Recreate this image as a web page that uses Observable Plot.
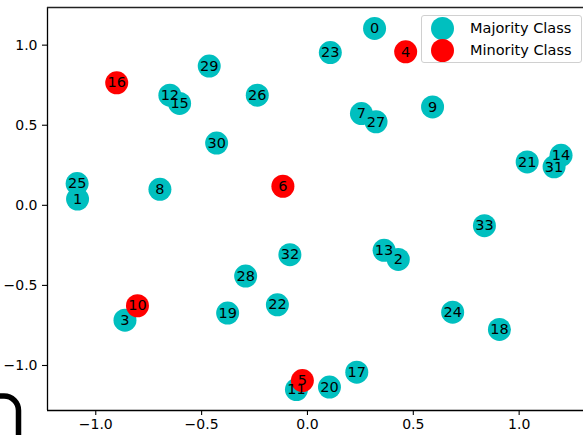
<!DOCTYPE html>
<html>
<head>
<meta charset="utf-8">
<script src="https://cdn.jsdelivr.net/npm/d3@7"></script>
<script src="https://cdn.jsdelivr.net/npm/@observablehq/plot@0.6"></script>
<style>
  html, body { margin: 0; padding: 0; background: #fff; }
  #wrap { position: relative; width: 583px; height: 435px; overflow: hidden; font-family: "DejaVu Sans", sans-serif; }
  #legend { position: absolute; left: 421px; top: 15px; width: 159px; height: 46px; border: 1px solid #d0d0d0; border-radius: 3px; background: rgba(255,255,255,0.85); }
  .item { position: absolute; left: 0; height: 22px; width: 159px; }
  .sw { position: absolute; left: 9px; width: 23px; height: 23px; border-radius: 50%; }
  .lab { position: absolute; left: 48px; font-size: 14.5px; color: #000; white-space: nowrap; line-height: 22px; }
  #corner { position: absolute; left: 0; top: 0; pointer-events: none; }
</style>
</head>
<body>
<div id="wrap"></div>
<script>
// Data
const nodeIds = [0,1,2,3,4,5,6,7,8,9,10,11,12,13,14,15,16,17,18,19,20,21,22,23,24,25,26,27,28,29,30,31,32,33];
const xs = [0.317,-1.086,0.429,-0.862,0.464,-0.024,-0.116,0.255,-0.697,0.591,-0.803,-0.052,-0.650,0.362,1.198,-0.604,-0.901,0.233,0.907,-0.377,0.104,1.038,-0.142,0.108,0.686,-1.088,-0.237,0.324,-0.292,-0.464,-0.429,1.165,-0.083,0.836];
const ys = [1.104,0.039,-0.3375,-0.717,0.958,-1.094,0.119,0.573,0.100,0.614,-0.627,-1.150,0.6875,-0.281,0.3125,0.636,0.765,-1.042,-0.775,-0.673,-1.135,0.271,-0.621,0.954,-0.667,0.136,0.6875,0.521,-0.442,0.869,0.389,0.240,-0.308,-0.127];
const minorityIds = [4,5,6,10,16];
const classNames = ["Majority Class", "Minority Class"];
const classColors = ["#00bfbf", "#ff0000"];
const xTicks = [-1.0, -0.5, 0.0, 0.5, 1.0];
const yTicks = [-1.0, -0.5, 0.0, 0.5, 1.0];
const xDomain = [-1.228, 1.304];
const yDomain = [-1.281, 1.235];

const nodes = nodeIds.map((id, i) => ({id, x: xs[i], y: ys[i], cls: minorityIds.includes(id) ? 1 : 0}));
const majority = nodes.filter(d => d.cls === 0);
const minority = nodes.filter(d => d.cls === 1);

const fmt = d3.format(".1f");

const chart = Plot.plot({
  width: 583,
  height: 435,
  marginLeft: 47,
  marginRight: 0,
  marginTop: 7,
  marginBottom: 25,
  style: {fontFamily: "DejaVu Sans, sans-serif", fontSize: "14px", background: "white", color: "black"},
  x: {domain: xDomain, ticks: xTicks, tickFormat: fmt, label: null},
  y: {domain: yDomain, ticks: yTicks, tickFormat: fmt, label: null},
  marks: [
    Plot.axisX({ticks: xTicks, tickFormat: fmt, tickSize: 5, tickPadding: 4, fontSize: 14, label: null, stroke: "black", strokeWidth: 1.1, strokeOpacity: 1}),
    Plot.axisY({ticks: yTicks, tickFormat: fmt, tickSize: 5, tickPadding: 5, fontSize: 14, label: null, stroke: "black", strokeWidth: 1.1, strokeOpacity: 1}),
    Plot.ruleX([xDomain[0]], {stroke: "black", strokeWidth: 1.3}),
    Plot.ruleY([yDomain[0]], {stroke: "black", strokeWidth: 1.3}),
    Plot.ruleY([yDomain[1]], {stroke: "#222", strokeWidth: 1.6}),
    Plot.dot(majority, {x: "x", y: "y", r: 11.5, fill: classColors[0], stroke: "none"}),
    Plot.dot(minority, {x: "x", y: "y", r: 11.5, fill: classColors[1], stroke: "none"}),
    Plot.text(nodes, {x: "x", y: "y", text: d => String(d.id), fill: "black", fontSize: 14.5, textAnchor: "middle", lineAnchor: "middle"})
  ]
});

const wrap = document.getElementById("wrap");
wrap.appendChild(chart);

// Legend
const legend = document.createElement("div");
legend.id = "legend";
classNames.forEach((name, i) => {
  const item = document.createElement("div");
  item.className = "item";
  item.style.top = (1 + i * 22) + "px";
  const sw = document.createElement("div");
  sw.className = "sw";
  sw.style.background = classColors[i];
  sw.style.top = "0px";
  const lab = document.createElement("div");
  lab.className = "lab";
  lab.textContent = name;
  lab.style.top = "0px";
  item.appendChild(sw);
  item.appendChild(lab);
  legend.appendChild(item);
});
wrap.appendChild(legend);

// decorative corner fragment seen at bottom-left of the reference
const ns = "http://www.w3.org/2000/svg";
const svg = document.createElementNS(ns, "svg");
svg.setAttribute("id", "corner");
svg.setAttribute("width", "40");
svg.setAttribute("height", "435");
const p = document.createElementNS(ns, "path");
p.setAttribute("d", "M -5 396 H 4 A 14.5 14.5 0 0 1 18.5 410.5 V 440");
p.setAttribute("fill", "none");
p.setAttribute("stroke", "black");
p.setAttribute("stroke-width", "5.5");
svg.appendChild(p);
wrap.appendChild(svg);
</script>
</body>
</html>
